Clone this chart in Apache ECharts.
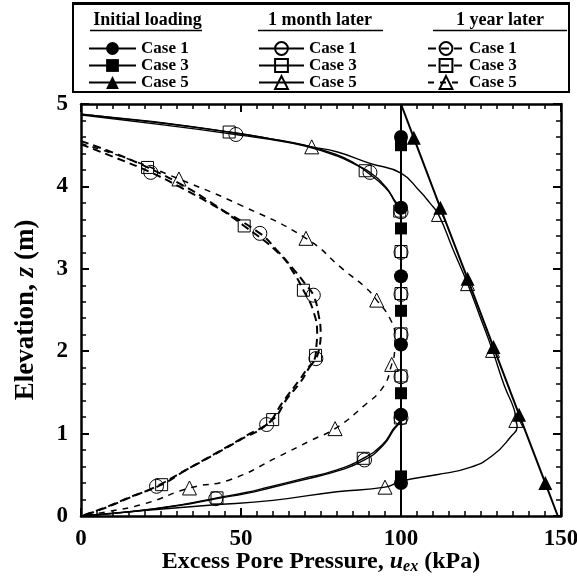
<!DOCTYPE html>
<html>
<head>
<meta charset="utf-8">
<script src="https://cdn.jsdelivr.net/npm/echarts@6/dist/echarts.min.js"></script>
<style>
  html, body { margin: 0; padding: 0; background: #fff; }
  #chart { width: 577px; height: 581px; }
</style>
</head>
<body>
<div id="chart"></div>
<script>
// Axis ranges and major tick steps
const xRange = [0, 150];
const xStep = 50;
const yRange = [0, 5];
const yStep = 1;

// Legend groups and case names
const groupTitles = ['Initial loading', '1 month later', '1 year later'];
const caseNames = ['Case 1', 'Case 3', 'Case 5'];

// ---- Initial loading: [u_ex (kPa), z (m)] ----
const initCase1Curve = [[100, 5], [100, 0]];
const initCase1Marks = [[100, 4.60], [100, 3.74], [100, 2.91], [100, 2.08], [100, 1.23], [100, 0.40]];
const initCase3Curve = [[100, 5], [100, 0]];
const initCase3Marks = [[100, 4.50], [100, 3.49], [100, 2.49], [100, 1.49], [100, 0.48]];
const initCase5Curve = [[100, 5], [149, 0]];
const initCase5Marks = [[104.0, 4.59], [112.3, 3.74], [120.8, 2.88], [128.9, 2.05], [136.9, 1.23], [145.1, 0.40]];

// ---- 1 month later ----
const monthCase1Curve = [[0, 4.87], [1.6, 4.86], [25, 4.75], [59, 4.57], [70, 4.49], [79.9, 4.37], [86, 4.26], [95.5, 3.98], [98.1, 3.81], [99.6, 3.72],
  [100, 3.6], [100, 1.3], [99.7, 1.23], [97.6, 1.04], [94.5, 0.86], [80.5, 0.55], [69.5, 0.44], [59, 0.34], [51.8, 0.275],
  [31, 0.13], [15.3, 0.05], [0, 0]];
const monthCase1Marks = [[48.4, 4.63], [90.3, 4.17], [100, 3.69], [100, 3.20], [100, 2.69], [100, 2.20], [100, 1.69], [100, 1.19], [88.6, 0.68], [42.1, 0.21]];
const monthCase3Curve = [[0, 4.88], [1.6, 4.87], [25, 4.77], [59, 4.58], [70, 4.50], [79.5, 4.39], [85.5, 4.28], [95, 3.99], [98, 3.83], [99.6, 3.73],
  [100, 3.6], [100, 1.3], [99.7, 1.24], [97.5, 1.05], [94.3, 0.87], [80, 0.56], [69, 0.45], [58.5, 0.35], [51.5, 0.285],
  [31, 0.135], [15.3, 0.053], [0, 0]];
const monthCase3Marks = [[46.3, 4.66], [88.8, 4.19], [99.6, 3.70], [100, 3.21], [100, 2.70], [100, 2.21], [100, 1.70], [99.8, 1.19], [88.2, 0.70], [42.5, 0.22]];
const monthCase5Curve = [[0, 4.88], [1.6, 4.87], [30, 4.75], [59, 4.58], [79.9, 4.42], [90.3, 4.28], [100, 4.16], [105.9, 3.94], [109, 3.8],
  [116.2, 3.24], [124.8, 2.41], [132.3, 1.58], [135.3, 1.3], [136.3, 1.08], [134.5, 0.97], [128.8, 0.74], [121.6, 0.59],
  [111.1, 0.50], [100.7, 0.43], [79.9, 0.295], [60, 0.19], [40, 0.13], [20.5, 0.07], [0, 0]];
const monthCase5Marks = [[72.1, 4.48], [111.7, 3.66], [120.8, 2.82], [128.6, 2.01], [135.9, 1.16], [95.0, 0.35]];

// ---- 1 year later ----
const yearCase1Curve = [[0, 4.51], [10, 4.36], [31, 3.99], [41.4, 3.77], [61.1, 3.23], [66.3, 3.0], [70, 2.82], [74.2, 2.45], [74.9, 2.2],
  [74.5, 2.05], [71, 1.8], [68.4, 1.66], [63.2, 1.39], [50, 0.93], [41.4, 0.74], [31, 0.52], [15, 0.22], [7, 0.09], [0, 0]];
const yearCase1Marks = [[21.8, 4.17], [55.9, 3.43], [72.6, 2.68], [73.4, 1.91], [58.0, 1.11], [23.6, 0.36]];
const yearCase3Curve = [[0, 4.55], [10, 4.41], [32, 4.01], [40, 3.82], [62, 3.18], [66.5, 2.95], [72.5, 2.5], [73.8, 2.2],
  [73.6, 2.08], [71, 1.78], [68.5, 1.62], [64.5, 1.43], [51, 0.96], [43, 0.78], [32.5, 0.55], [16, 0.24], [7, 0.095], [0, 0]];
const yearCase3Marks = [[20.8, 4.23], [51.0, 3.52], [69.5, 2.74], [73.3, 1.95], [59.9, 1.17], [25.2, 0.38]];
const yearCase5Curve = [[0, 4.52], [15, 4.33], [50, 3.77], [82, 2.99], [89, 2.77], [96.5, 2.4], [98.1, 2.18], [98, 2.0],
  [94.5, 1.57], [88.2, 1.33], [72, 0.92], [62.2, 0.73], [46.6, 0.44], [20, 0.15], [8, 0.05], [0, 0]];
const yearCase5Marks = [[30.6, 4.09], [70.3, 3.37], [92.4, 2.62], [97.1, 1.84], [79.4, 1.06], [33.9, 0.34]];

const FONT = 'Liberation Serif, Times New Roman, serif';

// Merge curve points (no marker) with marker points, ordered along the depth
function buildData(curve, marks) {
  const pts = curve.map(p => ({ value: p, symbol: 'none' }))
    .concat(marks.map(p => ({ value: p })));
  pts.sort((a, b) => b.value[1] - a.value[1]);
  return pts;
}

const symbols = ['circle', 'rect', 'triangle'];
const symbolSizes = [14, 12, 14];

function makeSeries(name, curve, marks, caseIdx, kind) {
  const filled = kind === 'init';
  const dashed = kind === 'year';
  return {
    name: name,
    type: 'line',
    data: buildData(curve, marks),
    smooth: kind === 'init' ? false : 0.5,
    symbol: symbols[caseIdx],
    symbolSize: symbolSizes[caseIdx],
    showSymbol: true,
    animation: false,
    z: kind === 'init' ? 5 : (kind === 'month' ? 4 : 3),
    lineStyle: {
      color: '#000',
      width: kind === 'init' ? 2 : (dashed ? (caseIdx === 2 ? 1.5 : 2) : 1.4),
      type: dashed ? (caseIdx === 2 ? [6, 6] : [8, 5]) : 'solid'
    },
    itemStyle: {
      color: filled ? '#000' : 'rgba(255,255,255,0)',
      borderColor: '#000',
      borderWidth: filled ? 0 : 1
    },
    emphasis: { disabled: true }
  };
}

const groups = [
  { kind: 'init', data: [[initCase1Curve, initCase1Marks], [initCase3Curve, initCase3Marks], [initCase5Curve, initCase5Marks]] },
  { kind: 'month', data: [[monthCase1Curve, monthCase1Marks], [monthCase3Curve, monthCase3Marks], [monthCase5Curve, monthCase5Marks]] },
  { kind: 'year', data: [[yearCase1Curve, yearCase1Marks], [yearCase3Curve, yearCase3Marks], [yearCase5Curve, yearCase5Marks]] }
];

const series = [];
// draw the later states first so the initial-loading marks sit on top
[2, 1, 0].forEach(g => {
  groups[g].data.forEach((d, c) => {
    series.push(makeSeries(groupTitles[g] + '|' + caseNames[c], d[0], d[1], c, groups[g].kind));
  });
});
const legendNames = groups.map((grp, g) => caseNames.map(c => groupTitles[g] + '|' + c));

const legendLeft = [88, 258, 427];
const legendIconW = [47, 45, 36];
const legends = legendNames.map((names, g) => ({
  data: names,
  orient: 'vertical',
  left: legendLeft[g],
  top: 40,
  padding: 0,
  itemWidth: legendIconW[g],
  itemHeight: 16,
  itemGap: 0,
  selectedMode: false,
  formatter: n => n.split('|')[1],
  textStyle: { fontFamily: FONT, fontWeight: 'bold', fontSize: 17, color: '#000', lineHeight: 16 }
}));

// Legend frame and group headings with underlines
const headerCenters = [147.5, 320, 500];
const underlines = [[90, 202], [258, 383], [433, 567]];
const graphics = [
  { type: 'rect', shape: { x: 73, y: 3, width: 496, height: 89 }, style: { fill: 'none', stroke: '#000', lineWidth: 2 } },
  { type: 'line', shape: { x1: 73, y1: 3.5, x2: 569, y2: 3.5 }, style: { stroke: '#000', lineWidth: 3 } }
];
groupTitles.forEach((t, g) => {
  graphics.push({
    type: 'text', x: headerCenters[g], y: 20,
    style: { text: t, fontFamily: FONT, fontWeight: 'bold', fontSize: 18, fill: '#000', align: 'center', verticalAlign: 'middle' }
  });
  graphics.push({
    type: 'line', shape: { x1: underlines[g][0], y1: 30.5, x2: underlines[g][1], y2: 30.5 },
    style: { stroke: '#000', lineWidth: 1.5 }
  });
});

const axisCommon = {
  type: 'value',
  axisLine: { show: true, onZero: false, lineStyle: { color: '#000', width: 2.5 } },
  axisTick: { show: true, inside: true, length: 8, lineStyle: { color: '#000', width: 2 } },
  minorTick: { show: true, length: 5, lineStyle: { color: '#000', width: 1.5 } },
  splitLine: { show: false },
  minorSplitLine: { show: false }
};
const labelStyle = { fontFamily: FONT, fontWeight: 'bold', fontSize: 23, color: '#000' };

const option = {
  backgroundColor: '#fff',
  animation: false,
  grid: { left: 81, top: 104, width: 480, height: 412, containLabel: false, outerBoundsMode: 'none' },
  legend: legends,
  graphic: graphics,
  xAxis: [
    Object.assign({}, axisCommon, {
      position: 'bottom', min: xRange[0], max: xRange[1], interval: xStep,
      minorTick: Object.assign({}, axisCommon.minorTick, { splitNumber: 10 }),
      axisLabel: Object.assign({ margin: 12 }, labelStyle),
      name: '{b|Excess Pore Pressure, }{i|u}{s|ex}{b| (kPa)}',
      nameLocation: 'middle', nameGap: 33, nameMoveOverlap: false,
      nameTextStyle: {
        rich: {
          b: { fontFamily: FONT, fontWeight: 'bold', fontSize: 24, color: '#000', lineHeight: 26 },
          i: { fontFamily: FONT, fontWeight: 'bold', fontStyle: 'italic', fontSize: 24, color: '#000', lineHeight: 26 },
          s: { fontFamily: FONT, fontWeight: 'bold', fontStyle: 'italic', fontSize: 16, color: '#000', lineHeight: 12, verticalAlign: 'bottom' }
        }
      }
    }),
    Object.assign({}, axisCommon, {
      position: 'top', min: xRange[0], max: xRange[1], interval: xStep,
      minorTick: Object.assign({}, axisCommon.minorTick, { splitNumber: 10 }),
      axisLabel: { show: false }
    })
  ],
  yAxis: [
    Object.assign({}, axisCommon, {
      position: 'left', min: yRange[0], max: yRange[1], interval: yStep,
      minorTick: Object.assign({}, axisCommon.minorTick, { splitNumber: 5 }),
      axisLabel: Object.assign({ margin: 13 }, labelStyle),
      name: '{b|Elevation, }{i|z}{b| (m)}',
      nameLocation: 'middle', nameGap: 41, nameRotate: 90, nameMoveOverlap: false,
      nameTextStyle: {
        rich: {
          b: { fontFamily: FONT, fontWeight: 'bold', fontSize: 27, color: '#000' },
          i: { fontFamily: FONT, fontWeight: 'bold', fontStyle: 'italic', fontSize: 27, color: '#000' }
        }
      }
    }),
    Object.assign({}, axisCommon, {
      position: 'right', min: yRange[0], max: yRange[1], interval: yStep,
      minorTick: Object.assign({}, axisCommon.minorTick, { splitNumber: 5 }),
      axisLabel: { show: false }
    })
  ],
  series: series
};

const chart = echarts.init(document.getElementById('chart'), null, { renderer: 'canvas' });
chart.setOption(option);
</script>
</body>
</html>
